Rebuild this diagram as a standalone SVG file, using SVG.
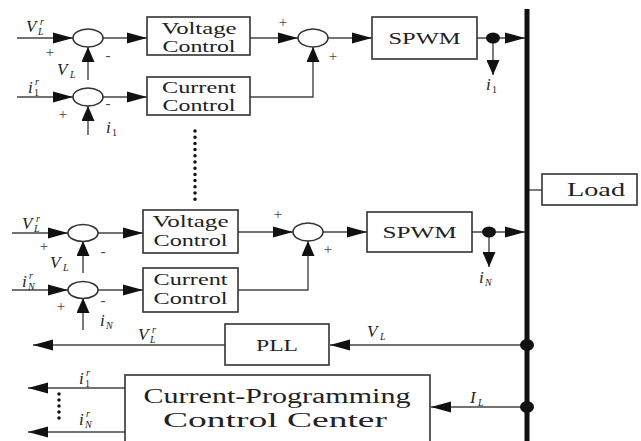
<svg xmlns="http://www.w3.org/2000/svg" width="641" height="441" viewBox="0 0 641 441">
<style>
.bx{fill:#fff;stroke:#333;stroke-width:1.6}
.sj{fill:#fff;stroke:#333;stroke-width:1.6}
.ln{fill:none;stroke:#444;stroke-width:1.4}
.t{font-family:"Liberation Serif","Times New Roman",serif;fill:#222;text-anchor:middle}
.m{font-family:"Liberation Serif","Times New Roman",serif;font-style:italic;fill:#222;font-size:17px}
.s{font-size:10px}
.n{font-family:"Liberation Serif","Times New Roman",serif;fill:#222;font-size:10px}
.pm{font-family:"Liberation Serif","Times New Roman",serif;fill:#444;font-size:15px;text-anchor:middle}
.dot{fill:#111}
</style>
<defs>
<marker id="ah" markerUnits="userSpaceOnUse" markerWidth="20" markerHeight="12" refX="20" refY="6" orient="auto"><path d="M0,0.5 L20,6 L0,11.5 Z" fill="#111"/></marker>
<marker id="av" markerUnits="userSpaceOnUse" markerWidth="15" markerHeight="13" refX="15" refY="6.5" orient="auto"><path d="M0,0 L15,6.5 L0,13 Z" fill="#111"/></marker>
</defs>

<g id="connectors">
<path class="ln" d="M17,38 H73" marker-end="url(#ah)"/>
<path class="ln" d="M103,38 H147" marker-end="url(#ah)"/>
<path class="ln" d="M88,80 V47" marker-end="url(#av)"/>
<path class="ln" d="M17,97 H73" marker-end="url(#ah)"/>
<path class="ln" d="M103,97 H147" marker-end="url(#ah)"/>
<path class="ln" d="M88,135 V106" marker-end="url(#av)"/>
<path class="ln" d="M250,38 H298" marker-end="url(#ah)"/>
<path class="ln" d="M250,97 H313 V47" marker-end="url(#av)"/>
<path class="ln" d="M328,38 H372" marker-end="url(#ah)"/>
<path class="ln" d="M477,38 H525" marker-end="url(#ah)"/>
<path class="ln" d="M493,38 V75" marker-end="url(#av)"/>

<path class="ln" d="M12,233 H68" marker-end="url(#ah)"/>
<path class="ln" d="M98,233 H143" marker-end="url(#ah)"/>
<path class="ln" d="M83,273 V241" marker-end="url(#av)"/>
<path class="ln" d="M12,290 H68" marker-end="url(#ah)"/>
<path class="ln" d="M98,290 H143" marker-end="url(#ah)"/>
<path class="ln" d="M83,330 V298" marker-end="url(#av)"/>
<path class="ln" d="M238,232 H293" marker-end="url(#ah)"/>
<path class="ln" d="M238,290 H308 V241" marker-end="url(#av)"/>
<path class="ln" d="M323,232 H367" marker-end="url(#ah)"/>
<path class="ln" d="M472,232 H525" marker-end="url(#ah)"/>
<path class="ln" d="M489,232 V267" marker-end="url(#av)"/>

<path class="ln" d="M527,190 H542"/>
<path class="ln" d="M527,345 H330" marker-end="url(#ah)"/>
<path class="ln" d="M225,345 H33" marker-end="url(#ah)"/>
<path class="ln" d="M527,407 H431" marker-end="url(#ah)"/>
<path class="ln" d="M125,388 H28" marker-end="url(#ah)"/>
<path class="ln" d="M125,432 H28" marker-end="url(#ah)"/>

<line x1="195" y1="131" x2="195" y2="200" stroke="#111" stroke-width="3.5" stroke-linecap="round" stroke-dasharray="0 6.2"/>
<line x1="59" y1="394" x2="59" y2="424" stroke="#111" stroke-width="3.5" stroke-linecap="round" stroke-dasharray="0 6"/>
</g>

<g id="bus">
<line x1="527" y1="9" x2="527" y2="441" stroke="#111" stroke-width="5"/>
<ellipse class="dot" cx="493" cy="38" rx="7" ry="5.5"/>
<ellipse class="dot" cx="489" cy="232" rx="7" ry="5.5"/>
<ellipse class="dot" cx="527" cy="345" rx="7" ry="6"/>
<ellipse class="dot" cx="527" cy="407" rx="7" ry="6"/>
</g>

<g id="sum1"><ellipse class="sj" cx="88" cy="38" rx="15" ry="9"/></g>
<g id="sum2"><ellipse class="sj" cx="88" cy="97" rx="15" ry="9"/></g>
<g id="sum3"><ellipse class="sj" cx="313" cy="38" rx="15" ry="9"/></g>
<g id="sum4"><ellipse class="sj" cx="83" cy="233" rx="15" ry="8.5"/></g>
<g id="sum5"><ellipse class="sj" cx="83" cy="290" rx="15" ry="8.5"/></g>
<g id="sum6"><ellipse class="sj" cx="308" cy="232" rx="15" ry="9"/></g>

<g id="vc1"><rect class="bx" x="147" y="17" width="103" height="38"/>
<text class="t" x="199" y="34" font-size="16" textLength="75" lengthAdjust="spacingAndGlyphs">Voltage</text>
<text class="t" x="199" y="52" font-size="16" textLength="73" lengthAdjust="spacingAndGlyphs">Control</text></g>
<g id="cc1"><rect class="bx" x="147" y="77" width="103" height="38"/>
<text class="t" x="199" y="93" font-size="16" textLength="74" lengthAdjust="spacingAndGlyphs">Current</text>
<text class="t" x="199" y="111" font-size="16" textLength="73" lengthAdjust="spacingAndGlyphs">Control</text></g>
<g id="spwm1"><rect class="bx" x="372" y="17" width="105" height="42"/>
<text class="t" x="424.5" y="44" font-size="17" textLength="72" lengthAdjust="spacingAndGlyphs">SPWM</text></g>

<g id="vc2"><rect class="bx" x="143" y="210" width="95" height="43"/>
<text class="t" x="190.5" y="227" font-size="16" textLength="76" lengthAdjust="spacingAndGlyphs">Voltage</text>
<text class="t" x="190.5" y="246" font-size="16" textLength="74" lengthAdjust="spacingAndGlyphs">Control</text></g>
<g id="cc2"><rect class="bx" x="143" y="268" width="95" height="44"/>
<text class="t" x="190.5" y="285" font-size="16" textLength="74" lengthAdjust="spacingAndGlyphs">Current</text>
<text class="t" x="190.5" y="304" font-size="16" textLength="74" lengthAdjust="spacingAndGlyphs">Control</text></g>
<g id="spwm2"><rect class="bx" x="367" y="212" width="105" height="40"/>
<text class="t" x="419.5" y="238" font-size="17" textLength="74" lengthAdjust="spacingAndGlyphs">SPWM</text></g>

<g id="load"><rect class="bx" x="542" y="174" width="95" height="31"/>
<text class="t" x="596" y="196" font-size="19" textLength="58" lengthAdjust="spacingAndGlyphs">Load</text></g>
<g id="pll"><rect class="bx" x="225" y="324" width="104" height="41"/>
<text class="t" x="277" y="351" font-size="16" textLength="42" lengthAdjust="spacingAndGlyphs">PLL</text></g>
<g id="cpcc"><rect class="bx" x="125" y="375" width="305" height="72"/>
<text class="t" x="277" y="403" font-size="20" textLength="267" lengthAdjust="spacingAndGlyphs">Current-Programming</text>
<text class="t" x="275" y="427" font-size="20" textLength="224" lengthAdjust="spacingAndGlyphs">Control Center</text></g>

<g id="labels">
<text class="m" x="26" y="32">V</text><text class="m s" x="40" y="25">r</text><text class="m s" x="38" y="35">L</text>
<text class="pm" x="50" y="57">+</text><text class="pm" x="108" y="60">-</text>
<text class="m" x="57" y="75">V</text><text class="m s" x="70" y="78">L</text>
<text class="m" x="28" y="93">i</text><text class="m s" x="35" y="85">r</text><text class="n" x="34" y="96">1</text>
<text class="pm" x="63" y="119">+</text><text class="pm" x="108" y="108">-</text>
<text class="m" x="106" y="133">i</text><text class="n" x="112" y="136">1</text>
<text class="pm" x="283" y="27">+</text><text class="pm" x="333" y="61">+</text>
<text class="m" x="486" y="90">i</text><text class="n" x="492" y="93">1</text>

<text class="m" x="22" y="229">V</text><text class="m s" x="36" y="222">r</text><text class="m s" x="34" y="232">L</text>
<text class="pm" x="44" y="251">+</text><text class="pm" x="103" y="256">-</text>
<text class="m" x="50" y="268">V</text><text class="m s" x="63" y="271">L</text>
<text class="m" x="22" y="287">i</text><text class="m s" x="29" y="279">r</text><text class="m s" x="28" y="290">N</text>
<text class="pm" x="61" y="311">+</text><text class="pm" x="103" y="305">-</text>
<text class="m" x="100" y="326">i</text><text class="m s" x="106" y="329">N</text>
<text class="pm" x="278" y="219">+</text><text class="pm" x="328" y="254">+</text>
<text class="m" x="479" y="283">i</text><text class="m s" x="485" y="286">N</text>

<text class="m" x="138" y="340">V</text><text class="m s" x="152" y="333">r</text><text class="m s" x="150" y="343">L</text>
<text class="m" x="367" y="337">V</text><text class="m s" x="380" y="340">L</text>
<text class="m" x="79" y="384">i</text><text class="m s" x="86" y="376">r</text><text class="n" x="85" y="387">1</text>
<text class="m" x="79" y="425">i</text><text class="m s" x="86" y="417">r</text><text class="m s" x="85" y="428">N</text>
<text class="m" x="470" y="403">I</text><text class="m s" x="478" y="406">L</text>
</g>
</svg>
